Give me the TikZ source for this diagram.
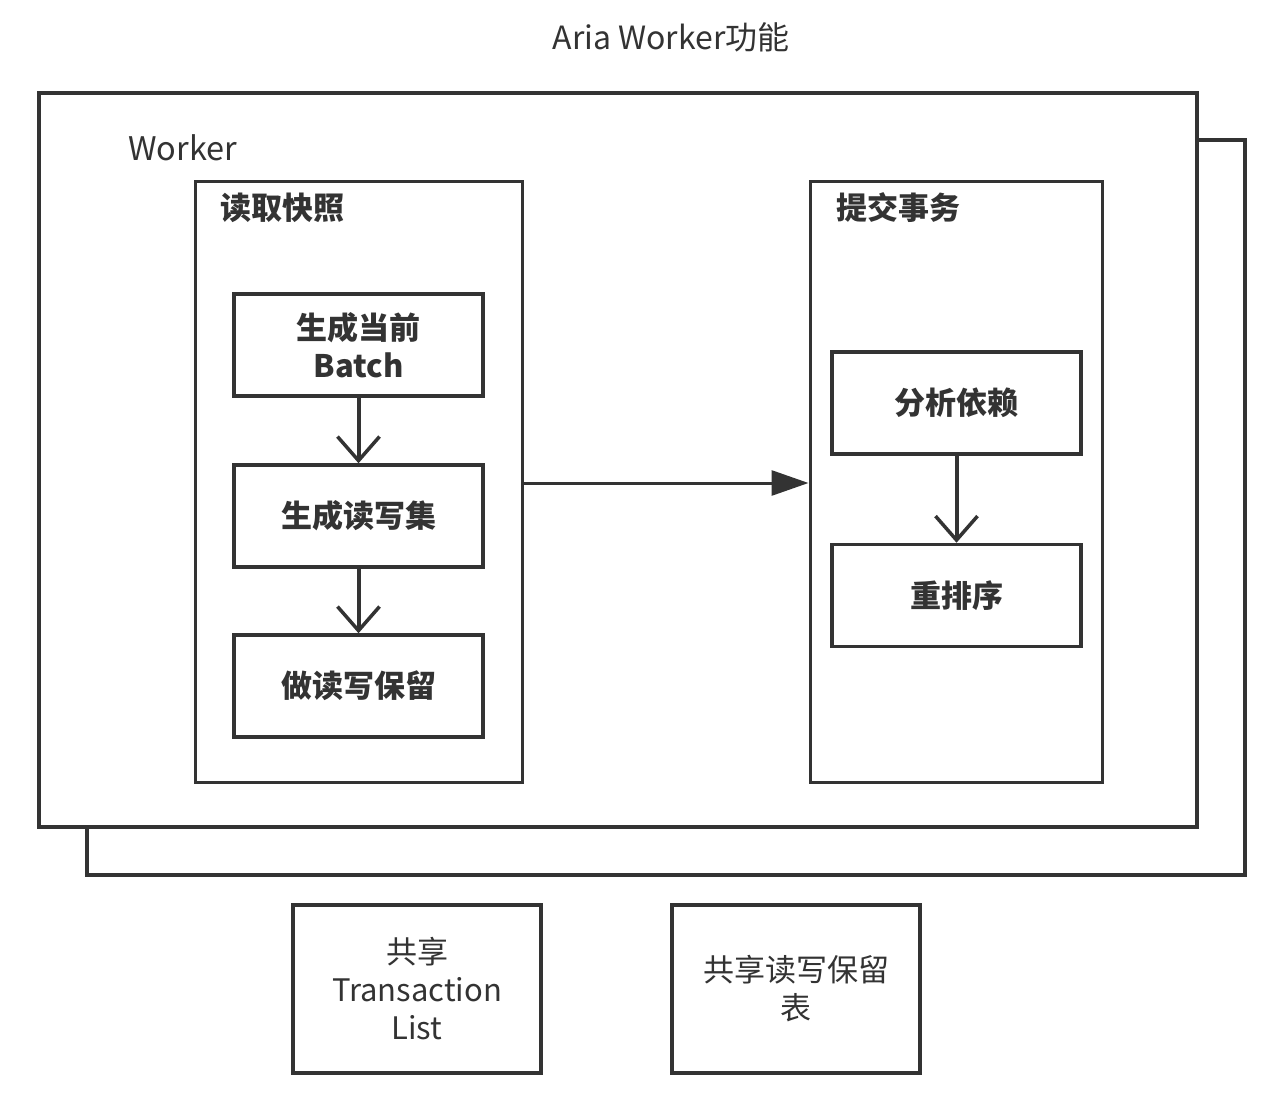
\documentclass[tikz,border=0pt]{standalone}
\usepackage{fontspec}
\setmainfont{Noto Sans CJK SC}
\usetikzlibrary{arrows.meta}
\definecolor{ink}{HTML}{333333}
\begin{document}
\begin{tikzpicture}[x=1pt,y=-1pt,
  frame/.style={draw=ink,line width=3.5pt,fill=white},
  grp/.style={draw=ink,line width=3pt},
  stepbox/.style={draw=ink,line width=3.5pt,fill=white,minimum width=249pt,minimum height=102pt,
     font=\fontsize{31}{38}\selectfont\bfseries,text=ink,align=center,inner sep=0pt},
  sharebox/.style={draw=ink,line width=3.5pt,fill=white,minimum width=248pt,minimum height=168pt,
     font=\fontsize{31}{38}\selectfont,text=ink,align=center,inner sep=0pt},
  varrow/.style={draw=ink,line width=4pt,-{Straight Barb[length=24pt,width=42pt,line width=3.5pt]}},
  harrow/.style={draw=ink,line width=3pt,-{Triangle[length=37pt,width=25pt]}},
  lbl/.style={text=ink,inner sep=0pt}
]
\useasboundingbox (0,0) rectangle (1268,1099);
% back and front worker frames
\draw[frame] (87,140) rectangle (1245,875);
\draw[frame] (39,93) rectangle (1197,827);
\node[lbl,font=\fontsize{32}{36}\selectfont] (title) at (671,37) {Aria Worker功能};
\node[lbl,anchor=west,font=\fontsize{32.5}{36}\selectfont] (worker) at (128,148) {Worker};
% groups
\node[grp,minimum width=327pt,minimum height=600pt,inner sep=0pt] (gread) at (358.5,482) {};
\node[grp,minimum width=292pt,minimum height=600pt,inner sep=0pt] (gcommit) at (956,482) {};
\node[lbl,anchor=west,font=\fontsize{31}{36}\selectfont\bfseries] (tread) at (220,208) {读取快照};
\node[lbl,anchor=west,font=\fontsize{31}{36}\selectfont\bfseries] (tcommit) at (836,208) {提交事务};
% steps
\node[stepbox] (batch) at (358.5,345) {生成当前\\Batch};
\node[stepbox] (rwset) at (358.5,516) {生成读写集};
\node[stepbox] (reserve) at (358.5,686) {做读写保留};
\node[stepbox] (dep) at (956.5,403) {分析依赖};
\node[stepbox] (reorder) at (956.5,595.5) {重排序};
\draw[varrow] (batch.south) -- (rwset.north);
\draw[varrow] (rwset.south) -- (reserve.north);
\draw[varrow] (dep.south) -- (reorder.north);
\draw[harrow] (gread.east |- 0,483) -- (gcommit.west |- 0,483);
% shared structures
\node[sharebox] (tlist) at (417,989) {共享\\Transaction\\List};
\node[sharebox] (rtable) at (796,989) {共享读写保留\\表};
\end{tikzpicture}
\end{document}
